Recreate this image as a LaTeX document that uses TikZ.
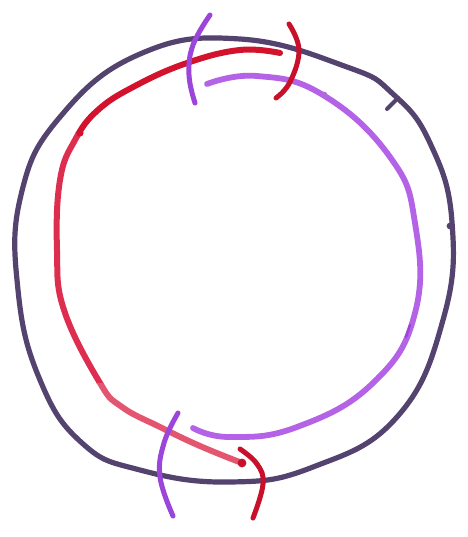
\documentclass[tikz,border=0pt]{standalone}
\begin{document}
\begin{tikzpicture}[x=1pt,y=-1pt,
  outerline/.style={draw=outerc,line width=5.2pt,line cap=round,line join=round},
  redline/.style={line width=6pt,line cap=round,line join=round},
  lilacline/.style={draw=lilac,line width=5.8pt,line cap=round,line join=round},
  parc/.style={draw=arcpurple,line width=5pt,line cap=round},
  rarc/.style={draw=arcred,line width=5pt,line cap=round}]
\definecolor{outerc}{HTML}{54436E}
\definecolor{redtop}{HTML}{D3122E}
\definecolor{redmid}{HTML}{DE2E50}
\definecolor{redlow}{HTML}{E45670}
\definecolor{lilac}{HTML}{B463E6}
\definecolor{arcpurple}{HTML}{9B45DA}
\definecolor{arcred}{HTML}{C8102A}
\useasboundingbox[fill=white] (0,0) rectangle (467,537);
% outer ring
\draw[outerline] plot[smooth cycle,tension=0.75] coordinates {
 (240,39) (347,67) (393,94) (430,143) (452,222) (443,320) (397,417) (313,467)
 (230,482) (140,470) (82,443) (40,380) (18,290) (21,195) (60,117) (140,54)};
\coordinate (tick1) at (398,98);
\coordinate (tick2) at (387,109);
\draw[outerline,line width=4pt] (tick1) -- (tick2);
\fill[outerc] (450,226) circle (3.4pt);
% red inner curve (one smooth stroke, coloured in three parts)
\def\redpath{plot[smooth,tension=0.7] coordinates {
 (280,53) (240,50) (187,63) (135,86) (98,110) (75,140) (60,180) (57,250) (64,310)
 (100,383) (122,407) (160,427) (200,446) (242,463)}}
\begin{scope}
 \clip (0,0) rectangle (467,133);
 \draw[redline,draw=redtop] \redpath;
\end{scope}
\begin{scope}
 \clip (0,133) rectangle (467,383);
 \draw[redline,draw=redmid] \redpath;
\end{scope}
\begin{scope}
 \clip (0,383) rectangle (467,537);
 \draw[redline,draw=redlow] \redpath;
\end{scope}
\fill[redtop] (80,133) circle (3.6pt);
\fill[arcred] (242,463) circle (4.4pt);
% lilac inner curve
\draw[lilacline] plot[smooth,tension=0.75] coordinates {
 (207,84) (257,76) (323,95) (390,157) (415,223) (415,313) (373,383)
 (297,427) (230,437) (193,428)};
\fill[arcpurple!80] (324,95) circle (3.4pt);
\draw[draw=arcpurple,line width=2.5pt,line cap=round] (410,325) -- (406,337);
% crossing arcs
\draw[rarc] plot[smooth,tension=0.7] coordinates {(289,24) (299,50) (290,82) (276,98)};
\draw[parc] plot[smooth,tension=0.7] coordinates {(210,15) (193,45) (189,75) (195,103)};
\draw[parc] plot[smooth,tension=0.7] coordinates {(178,413) (164,443) (160,477) (173,516)};
\draw[rarc] plot[smooth,tension=0.7] coordinates {(240,449) (257,464) (263,484) (253,518)};
\end{tikzpicture}
\end{document}
